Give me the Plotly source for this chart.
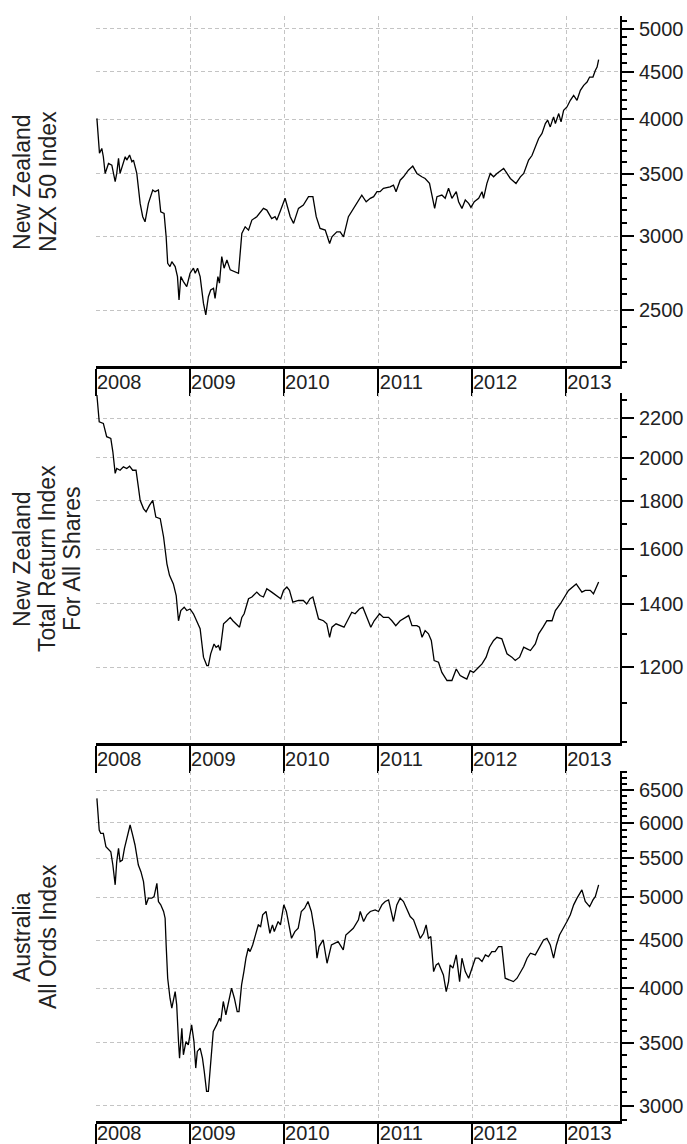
import math
import plotly.graph_objects as go

# ---------------- data ----------------
year_ticks = ["2008-01-01", "2009-01-01", "2010-01-01", "2011-01-01", "2012-01-01", "2013-01-01"]
year_labels = ["2008", "2009", "2010", "2011", "2012", "2013"]

nzx_dates = [
    "2008-01-04", "2008-01-10", "2008-01-14", "2008-01-23", "2008-01-29", "2008-02-05", "2008-02-18",
    "2008-03-02", "2008-03-15", "2008-03-21", "2008-03-28", "2008-04-03", "2008-04-10", "2008-04-23",
    "2008-04-29", "2008-05-10", "2008-05-19", "2008-05-25", "2008-06-07", "2008-06-13", "2008-06-20",
    "2008-06-30", "2008-07-09", "2008-07-22", "2008-07-29", "2008-08-08", "2008-08-17", "2008-08-30",
    "2008-09-08", "2008-09-21", "2008-09-29", "2008-10-05", "2008-10-14", "2008-10-21", "2008-11-03",
    "2008-11-12", "2008-11-18", "2008-11-25", "2008-12-05", "2008-12-18", "2008-12-31",
    "2009-01-13", "2009-01-20", "2009-01-29", "2009-02-08", "2009-02-21", "2009-03-02", "2009-03-12",
    "2009-03-21", "2009-04-01", "2009-04-07", "2009-04-18", "2009-04-24", "2009-05-03", "2009-05-12",
    "2009-05-23", "2009-06-05", "2009-07-07", "2009-07-20", "2009-08-02", "2009-08-15", "2009-08-28",
    "2009-09-16", "2009-10-12", "2009-10-25", "2009-11-13", "2009-11-26", "2009-12-03", "2009-12-18",
    "2010-01-04", "2010-01-24", "2010-02-06", "2010-02-25", "2010-03-16", "2010-04-05", "2010-04-22",
    "2010-05-05", "2010-05-20", "2010-06-09", "2010-06-26", "2010-07-05", "2010-07-24", "2010-08-06",
    "2010-08-19", "2010-09-07", "2010-09-27", "2010-10-20", "2010-10-29", "2010-11-15", "2010-12-01",
    "2010-12-14", "2010-12-27",
    "2011-01-08", "2011-01-21", "2011-02-16", "2011-03-01", "2011-03-11", "2011-03-27", "2011-04-09",
    "2011-04-28", "2011-05-15", "2011-05-31", "2011-06-19", "2011-07-02", "2011-07-19", "2011-08-01",
    "2011-08-08", "2011-08-17", "2011-09-05", "2011-09-18", "2011-10-01", "2011-10-14", "2011-10-31",
    "2011-11-09", "2011-11-22", "2011-12-05", "2011-12-18", "2011-12-27",
    "2012-01-09", "2012-01-26", "2012-02-08", "2012-02-14", "2012-02-27", "2012-03-11", "2012-03-24",
    "2012-04-06", "2012-05-02", "2012-05-15", "2012-05-28", "2012-06-19", "2012-07-06", "2012-07-19",
    "2012-08-07", "2012-08-20", "2012-09-02", "2012-09-15", "2012-09-28", "2012-10-11", "2012-10-20",
    "2012-10-30", "2012-11-12", "2012-11-19", "2012-12-02", "2012-12-11", "2012-12-21",
    "2013-01-03", "2013-01-16", "2013-01-29", "2013-02-11", "2013-02-24", "2013-03-09", "2013-03-22",
    "2013-04-01", "2013-04-14", "2013-04-23", "2013-04-30", "2013-05-06",
]
nzx_values = [
    4010, 3770, 3680, 3724, 3649, 3502, 3589, 3574, 3432, 3502, 3634, 3502, 3559, 3649, 3619, 3664,
    3604, 3619, 3502, 3362, 3253, 3148, 3109, 3253, 3307, 3362, 3348, 3362, 3186, 3174, 2996, 2807,
    2784, 2818, 2784, 2716, 2564, 2716, 2683, 2650, 2739,
    2773, 2739, 2773, 2716, 2543, 2472, 2585, 2628, 2639, 2575, 2716, 2673, 2853, 2773, 2830, 2762,
    2739, 3021, 3071, 3046, 3122, 3148, 3213, 3200, 3134, 3148, 3122, 3200,
    3294, 3148, 3097, 3213, 3240, 3307, 3307, 3148, 3058, 3046, 2947, 2996, 3033, 3033, 2996, 3148,
    3213, 3294, 3320, 3266, 3294, 3307, 3348,
    3348, 3376, 3388, 3403, 3348, 3444, 3473, 3530, 3566, 3502, 3473, 3459, 3417, 3294, 3213, 3307,
    3320, 3294, 3376, 3294, 3348, 3266, 3213, 3280, 3253, 3221,
    3266, 3294, 3348, 3294, 3417, 3502, 3473, 3502, 3545, 3502, 3459, 3417, 3473, 3502, 3619, 3660,
    3740, 3817, 3864, 3960, 3993, 3927, 4025, 3960, 4058, 3976, 4091,
    4125, 4193, 4244, 4193, 4297, 4350, 4386, 4440, 4440, 4513, 4550, 4634,
]

nztr_dates = [
    "2008-01-04", "2008-01-13", "2008-01-29", "2008-02-11", "2008-02-27", "2008-03-06", "2008-03-15",
    "2008-03-21", "2008-04-03", "2008-04-16", "2008-04-29", "2008-05-10", "2008-05-22", "2008-06-04",
    "2008-06-13", "2008-06-20", "2008-07-03", "2008-07-13", "2008-07-26", "2008-08-08", "2008-08-20",
    "2008-09-06", "2008-09-19", "2008-10-02", "2008-10-12", "2008-10-27", "2008-11-07", "2008-11-16",
    "2008-11-25", "2008-12-08", "2008-12-18", "2008-12-31",
    "2009-01-13", "2009-01-26", "2009-02-08", "2009-02-15", "2009-02-21", "2009-03-06", "2009-03-12",
    "2009-03-21", "2009-04-03", "2009-04-11", "2009-04-20", "2009-04-27", "2009-05-10", "2009-05-23",
    "2009-06-05", "2009-06-15", "2009-06-28", "2009-07-11", "2009-07-20", "2009-07-29", "2009-08-15",
    "2009-08-28", "2009-09-16", "2009-09-29", "2009-10-12", "2009-10-25", "2009-11-13", "2009-12-03",
    "2009-12-18", "2009-12-29",
    "2010-01-11", "2010-01-21", "2010-02-03", "2010-02-25", "2010-03-16", "2010-03-29", "2010-04-11",
    "2010-04-22", "2010-05-01", "2010-05-14", "2010-06-02", "2010-06-15", "2010-06-26", "2010-07-05",
    "2010-07-21", "2010-08-06", "2010-08-21", "2010-09-03", "2010-09-20", "2010-10-03", "2010-10-20",
    "2010-11-02", "2010-11-18", "2010-12-03", "2010-12-16",
    "2011-01-06", "2011-01-21", "2011-02-10", "2011-02-23", "2011-03-10", "2011-03-27", "2011-04-16",
    "2011-04-29", "2011-05-12", "2011-05-31", "2011-06-10", "2011-06-20", "2011-07-02", "2011-07-15",
    "2011-07-26", "2011-08-06", "2011-08-23", "2011-09-05", "2011-09-25", "2011-10-14", "2011-10-31",
    "2011-11-15", "2011-11-28", "2011-12-11", "2011-12-24",
    "2012-01-06", "2012-01-26", "2012-02-08", "2012-02-24", "2012-03-08", "2012-03-24", "2012-04-06",
    "2012-04-25", "2012-05-15", "2012-06-03", "2012-06-16", "2012-07-03", "2012-07-19", "2012-08-01",
    "2012-08-14", "2012-09-02", "2012-09-15", "2012-10-02", "2012-10-17", "2012-11-06", "2012-11-19",
    "2012-12-08", "2012-12-27",
    "2013-01-09", "2013-02-08", "2013-03-02", "2013-03-15", "2013-04-04", "2013-04-16", "2013-05-06",
]
nztr_values = [
    2329, 2182, 2173, 2104, 2095, 2028, 1924, 1947, 1939, 1955, 1947, 1958, 1939, 1939, 1862, 1802,
    1766, 1752, 1780, 1802, 1730, 1723, 1648, 1544, 1501, 1470, 1429, 1344, 1378, 1389, 1378, 1383,
    1367, 1344, 1318, 1270, 1230, 1205, 1205, 1240, 1270, 1260, 1265, 1250, 1334, 1344, 1355, 1344,
    1334, 1323, 1355, 1367, 1418, 1424, 1441, 1429, 1424, 1453, 1441, 1429, 1418, 1447,
    1459, 1447, 1406, 1412, 1412, 1400, 1418, 1424, 1395, 1350, 1344, 1334, 1291, 1323, 1334, 1328,
    1323, 1344, 1372, 1367, 1383, 1389, 1355, 1323, 1344,
    1367, 1355, 1355, 1344, 1328, 1344, 1355, 1361, 1328, 1328, 1323, 1291, 1312, 1302, 1281, 1220,
    1215, 1185, 1162, 1162, 1195, 1176, 1171, 1166, 1190,
    1185, 1200, 1210, 1230, 1260, 1281, 1291, 1286, 1240, 1230, 1220, 1230, 1260, 1255, 1250, 1270,
    1302, 1323, 1344, 1344, 1378, 1400, 1429,
    1447, 1470, 1441, 1447, 1447, 1435, 1477,
]

aord_dates = [
    "2008-01-04", "2008-01-13", "2008-01-19", "2008-01-29", "2008-02-08", "2008-02-21", "2008-02-27",
    "2008-03-06", "2008-03-15", "2008-03-21", "2008-03-28", "2008-04-03", "2008-04-12", "2008-04-20",
    "2008-04-29", "2008-05-12", "2008-05-22", "2008-05-31", "2008-06-13", "2008-06-23", "2008-07-03",
    "2008-07-13", "2008-07-22", "2008-08-04", "2008-08-13", "2008-08-24", "2008-08-30", "2008-09-08",
    "2008-09-19", "2008-09-25", "2008-09-29", "2008-10-05", "2008-10-14", "2008-10-21", "2008-11-03",
    "2008-11-09", "2008-11-16", "2008-11-20", "2008-11-29", "2008-12-05", "2008-12-15", "2008-12-24",
    "2009-01-06", "2009-01-15", "2009-01-22", "2009-01-28", "2009-02-08", "2009-02-17", "2009-02-24",
    "2009-03-05", "2009-03-12", "2009-03-21", "2009-03-31", "2009-04-13", "2009-04-24", "2009-04-29",
    "2009-05-09", "2009-05-19", "2009-05-28", "2009-06-10", "2009-06-21", "2009-07-02", "2009-07-09",
    "2009-07-19", "2009-07-28", "2009-08-05", "2009-08-14", "2009-08-21", "2009-08-31", "2009-09-13",
    "2009-09-22", "2009-10-01", "2009-10-09", "2009-10-22", "2009-11-06", "2009-11-16", "2009-11-23",
    "2009-12-08", "2009-12-17", "2009-12-30",
    "2010-01-09", "2010-01-29", "2010-02-11", "2010-02-24", "2010-03-08", "2010-03-21", "2010-04-03",
    "2010-04-16", "2010-04-29", "2010-05-08", "2010-05-16", "2010-06-01", "2010-06-16", "2010-07-03",
    "2010-07-29", "2010-08-18", "2010-08-28", "2010-09-26", "2010-10-16", "2010-10-23", "2010-11-05",
    "2010-11-18", "2010-12-01", "2010-12-20",
    "2011-01-02", "2011-01-15", "2011-01-28", "2011-02-10", "2011-03-01", "2011-03-14", "2011-03-27",
    "2011-04-09", "2011-04-22", "2011-05-05", "2011-05-18", "2011-05-31", "2011-06-13", "2011-06-26",
    "2011-07-06", "2011-07-15", "2011-07-24", "2011-08-04", "2011-08-14", "2011-08-23", "2011-09-01",
    "2011-09-11", "2011-09-22", "2011-10-01", "2011-10-07", "2011-10-18", "2011-10-31", "2011-11-13",
    "2011-11-22", "2011-12-05", "2011-12-18", "2011-12-31",
    "2012-01-13", "2012-01-26", "2012-02-08", "2012-02-21", "2012-03-04", "2012-03-17", "2012-03-30",
    "2012-04-12", "2012-04-25", "2012-05-08", "2012-05-21", "2012-06-09", "2012-06-23", "2012-07-06",
    "2012-07-19", "2012-08-01", "2012-08-14", "2012-09-02", "2012-09-21", "2012-10-04", "2012-10-17",
    "2012-10-30", "2012-11-12", "2012-11-23", "2012-12-05", "2012-12-21",
    "2013-01-03", "2013-01-16", "2013-01-29", "2013-02-11", "2013-03-02", "2013-03-15", "2013-04-01",
    "2013-04-14", "2013-04-23", "2013-05-06",
]
aord_values = [
    6369, 5894, 5845, 5845, 5658, 5613, 5589, 5410, 5154, 5454, 5636, 5454, 5476, 5636, 5775, 5967,
    5821, 5682, 5410, 5322, 5195, 4907, 4988, 4988, 5007, 5173, 4947, 4907, 4828, 4749, 4448, 4100,
    3904, 3810, 3968, 3841, 3511, 3371, 3627, 3399, 3511, 3483,
    3657, 3511, 3290, 3427, 3455, 3371, 3264, 3108, 3108, 3317, 3598, 3657, 3718, 3688, 3873, 3749,
    3841, 4001, 3904, 3778, 3778, 4033, 4167, 4306, 4412, 4376, 4448, 4596, 4672, 4653, 4789, 4828,
    4577, 4672, 4596, 4711, 4672, 4907,
    4828, 4521, 4596, 4634, 4828, 4867, 4947, 4828, 4596, 4306, 4430, 4503, 4253, 4448, 4485, 4395,
    4558, 4634, 4730, 4828, 4711, 4789, 4828, 4847,
    4828, 4907, 4947, 4967, 4711, 4907, 4988, 4947, 4847, 4768, 4730, 4634, 4521, 4577, 4672, 4521,
    4540, 4167, 4236, 4253, 4202, 4133, 3968, 4066, 4236, 4202, 4341, 4066, 4306, 4167, 4100, 4202,
    4306, 4306, 4271, 4341, 4323, 4376, 4376, 4430, 4430, 4100, 4083, 4066, 4100, 4167, 4219, 4306,
    4359, 4341, 4430, 4503, 4521, 4448, 4306, 4448, 4558, 4634,
    4711, 4789, 4907, 4988, 5091, 4947, 4885, 4967, 5007, 5154,
]

nzx_ticks = [2500, 3000, 3500, 4000, 4500, 5000]
nztr_ticks = [1200, 1400, 1600, 1800, 2000, 2200]
aord_ticks = [3000, 3500, 4000, 4500, 5000, 5500, 6000, 6500]

nzx_title = ["New Zealand", "NZX 50 Index"]
nztr_title = ["New Zealand", "Total Return Index", "For All Shares"]
aord_title = ["Australia", "All Ords Index"]

# ---------------- styling ----------------
FONT = "Liberation Sans, Arial, sans-serif"
TXT = "#222222"
GRID = "#c4c4c4"
DASH = "4px,3px"
x_range = ["2007-12-31 12:00", "2013-07-28"]

panels = [
    dict(dates=nzx_dates, vals=nzx_values, ticks=nzx_ticks, yr=(2180, 5160),
         dom=[0.6833, 1.0], title=nzx_title, tx=[22, 48], ty=0.8498, lstand=-31),
    dict(dates=nztr_dates, vals=nztr_values, ticks=nztr_ticks, yr=(998, 2340),
         dom=[0.3421, 0.6588], title=nztr_title, tx=[22, 47, 72], ty=0.5086, lstand=-31),
    dict(dates=aord_dates, vals=aord_values, ticks=aord_ticks, yr=(2890, 6810),
         dom=[0.0, 0.3167], title=aord_title, tx=[22, 48], ty=0.1665, lstand=-35),
]

fig = go.Figure()
layout = dict(
    template="none",
    width=687, height=1144,
    margin=dict(l=96, r=67, t=16, b=23, autoexpand=False),
    paper_bgcolor="white", plot_bgcolor="white",
    showlegend=False,
    font=dict(family=FONT, color=TXT, size=20),
    annotations=[],
)

for i, p in enumerate(panels):
    n = "" if i == 0 else str(i + 1)
    xa, ya = "x" + n, "y" + n
    fig.add_trace(go.Scatter(x=p["dates"], y=p["vals"], xaxis=xa, yaxis=ya, mode="lines",
                             line=dict(color="black", width=1.3), hoverinfo="x+y"))
    lo, hi = p["yr"]
    minor_vals = list(range(int(math.ceil(lo / 100.0)) * 100, int(hi) + 1, 100))
    layout["xaxis" + n] = dict(
        domain=[0, 1], anchor=ya, type="date", range=x_range, automargin=False,
        tickmode="array", tickvals=year_ticks, ticktext=year_labels,
        ticks="outside", ticklen=27, tickwidth=1.5, tickcolor="black",
        ticklabelshift=23, ticklabelstandoff=p["lstand"],
        tickfont=dict(size=20, color=TXT, family=FONT),
        showline=True, linewidth=2.5, linecolor="black",
        showgrid=True, gridcolor=GRID, gridwidth=1, griddash=DASH,
        zeroline=False, fixedrange=True,
    )
    layout["yaxis" + n] = dict(
        domain=p["dom"], anchor=xa, side="right", type="log", automargin=False,
        range=[math.log10(lo), math.log10(hi)],
        tickmode="array", tickvals=p["ticks"], ticktext=[str(v) for v in p["ticks"]],
        ticks="outside", ticklen=12, tickwidth=1.5, tickcolor="black",
        ticklabelstandoff=1,
        tickfont=dict(size=20, color=TXT, family=FONT),
        showline=True, linewidth=2, linecolor="black",
        showgrid=True, gridcolor=GRID, gridwidth=1, griddash=DASH,
        minor=dict(tickmode="array", tickvals=minor_vals, ticks="outside", ticklen=5,
                   tickwidth=1.5, tickcolor="black", showgrid=False),
        zeroline=False, fixedrange=True,
    )
    for line_text, px in zip(p["title"], p["tx"]):
        layout["annotations"].append(dict(
            text=line_text, xref="paper", yref="paper", x=0, y=p["ty"],
            xshift=px - 96, xanchor="center", yanchor="middle", textangle=-90,
            showarrow=False, font=dict(size=23, color=TXT, family=FONT),
        ))

fig.update_layout(**layout)
fig.write_html("out.html", config={"displayModeBar": False})
